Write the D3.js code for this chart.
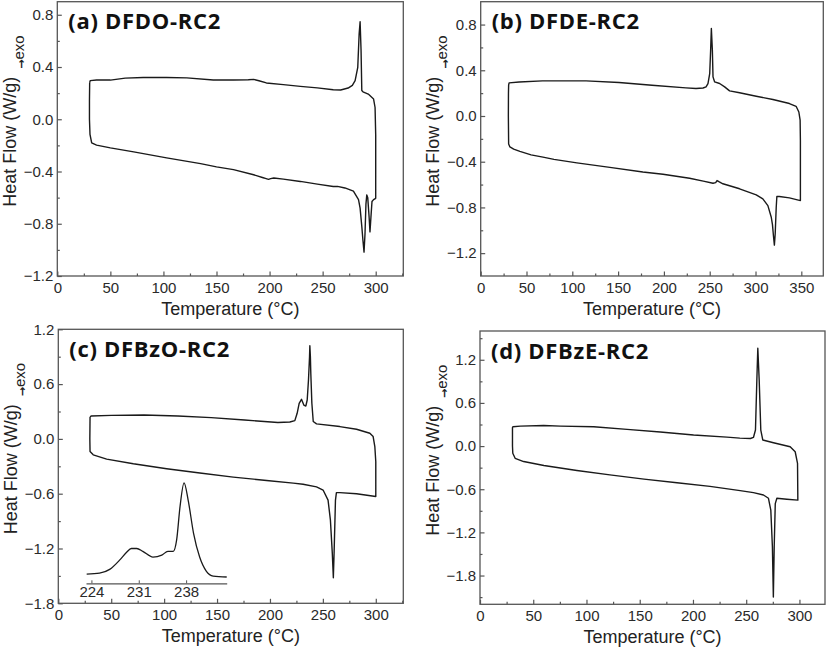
<!DOCTYPE html>
<html><head><meta charset="utf-8">
<script src="https://cdn.jsdelivr.net/npm/d3@7"></script>
<style>body{margin:0;background:#fff} svg{display:block}</style>
</head><body>
<svg id="chart" width="827" height="649"></svg>
<script>
// ---------------- data (temperature in °C, heat flow in W/g), loop order ----------------
const aTemp = [30.5,31,37,50,64,81,103,122,147,166,180,185,190,197,213,229,245,260,267,274,278,280.6,283.1,284.4,285.3,286.2,286.9,288,293,298,299.4,300,300,
  298,296.5,295.5,294.6,293.8,292.5,291.6,290.8,289.9,289,288,286.9,285.3,283.8,279,271,264,260,245,229,213,204,201,199,196,194,185,166,150,135,103,72,50,37,32.4,30.8,30.3,30.3,30.5];
const aHeat = [0.28,0.296,0.30,0.30,0.315,0.32,0.32,0.317,0.30,0.30,0.302,0.305,0.295,0.278,0.265,0.252,0.24,0.226,0.224,0.239,0.26,0.296,0.398,0.655,0.746,0.528,0.22,0.21,0.193,0.155,0.09,-0.119,-0.605,
  -0.615,-0.63,-0.75,-0.862,-0.75,-0.6,-0.579,-0.65,-0.88,-1.017,-0.93,-0.82,-0.68,-0.615,-0.55,-0.526,-0.514,-0.515,-0.497,-0.476,-0.458,-0.45,-0.455,-0.46,-0.453,-0.448,-0.425,-0.386,-0.365,-0.34,-0.296,-0.25,-0.219,-0.198,-0.18,-0.116,0.0,0.14,0.28];

const bTemp = [30.5,31,42,67.5,115,151,187,224,235,242.7,246,248.1,250,251,251.8,252.9,253.6,255.4,260.8,266.3,271.7,282.6,300.8,319,337,344.3,347.3,348.7,349,349,
  337,326,323.3,322.6,321.5,320.6,319.6,318.5,317.2,313.5,308,300.8,282.6,264.4,260,258,256.5,253.6,243,228,199,177,141,105,80,68,55,42.8,36,31.9,30.5,30.2,30.3,30.5];
const bHeat = [0.27,0.29,0.298,0.307,0.307,0.293,0.269,0.246,0.24,0.245,0.255,0.284,0.37,0.576,0.766,0.576,0.342,0.298,0.284,0.255,0.22,0.203,0.173,0.144,0.109,0.085,0.035,-0.037,-0.213,-0.74,
  -0.716,-0.705,-0.705,-0.80,-1.03,-1.13,-1.05,-0.95,-0.886,-0.784,-0.725,-0.69,-0.637,-0.593,-0.575,-0.565,-0.583,-0.588,-0.57,-0.545,-0.51,-0.49,-0.45,-0.41,-0.38,-0.36,-0.34,-0.31,-0.29,-0.271,-0.245,0.0,0.2,0.27];

const cTemp = [30,31,50,81,113,144.5,176,207.5,218.8,223.5,225.7,227.6,229.8,232,233.9,235.2,236.4,237.4,237.7,238.2,238.6,239.6,240.9,244,266,281.8,294.4,297.5,299.1,300,300,
  281.8,266,262.8,261.9,260.6,259.9,258.9,257.1,254.9,250.2,244,231.3,222,196.8,165.3,133.8,102.4,70.9,45.7,33,30,29.8,30];
const cHeat = [0.24,0.251,0.258,0.262,0.251,0.233,0.207,0.18,0.185,0.2,0.28,0.389,0.433,0.371,0.36,0.426,0.645,0.9,1.02,0.9,0.718,0.39,0.19,0.164,0.135,0.106,0.062,0.026,-0.084,-0.25,-0.63,
  -0.6,-0.588,-0.588,-0.67,-1.25,-1.52,-1.25,-0.886,-0.67,-0.56,-0.525,-0.496,-0.484,-0.455,-0.418,-0.374,-0.327,-0.272,-0.221,-0.174,-0.138,0.0,0.24];

const dTemp = [30.5,31,37.9,59.8,75.5,106.8,138.1,169.3,200.6,231.9,244,254,256.8,258.7,260,260.9,262.2,263.7,265.6,275.6,291.3,296,298.2,298.5,
  288.2,278.8,277.3,276.3,275.5,274.6,273.1,270.9,266.2,256.8,244.3,216,185,154,122,91,60,41,33,30.8,30.5,30.5];
const dHeat = [0.26,0.269,0.278,0.286,0.278,0.268,0.232,0.195,0.153,0.125,0.11,0.105,0.12,0.223,0.919,1.36,0.919,0.223,0.084,0.046,-0.009,-0.079,-0.241,-0.752,
  -0.74,-0.726,-0.80,-1.4,-2.1,-1.4,-0.89,-0.726,-0.68,-0.648,-0.62,-0.56,-0.51,-0.46,-0.40,-0.34,-0.27,-0.215,-0.17,-0.10,0.0,0.26];

// inset of panel (c): crystallization region, arbitrary intensity
const insetTemp   = [223.3,225.2,226.7,228.2,229.2,229.9,230.7,231.6,233.1,234.4,235.3,236.1,236.6,237.1,237.7,238.3,239.1,240,241,242,244];
const insetSignal = [0.03,0.04,0.08,0.18,0.26,0.30,0.30,0.27,0.21,0.23,0.27,0.27,0.39,0.74,0.99,0.81,0.46,0.21,0.06,0.01,0];
const insetTicks  = [224,231,238];

const titles = ["(a) DFDO-RC2","(b) DFDE-RC2","(c) DFBzO-RC2","(d) DFBzE-RC2"];
const xTicks300 = [0,50,100,150,200,250,300];
const xTicks350 = [0,50,100,150,200,250,300,350];
const yTicksAB = [-1.2,-0.8,-0.4,0.0,0.4,0.8];
const yTicksCD = [-1.8,-1.2,-0.6,0.0,0.6,1.2];
const xLabel = "Temperature (°C)";
const yLabel = "Heat Flow (W/g)";
const exoLabel = "exo";

// ---------------- layout ----------------
const panels = [
  {title:titles[0], T:aTemp, H:aHeat, xd:[0,326], yd:[-1.2,0.9], xt:xTicks300, yt:yTicksAB, ym:0.2, box:{l:57.3,t:1.7,r:403.3,b:276}},
  {title:titles[1], T:bTemp, H:bHeat, xd:[0,374], yd:[-1.4,1.0], xt:xTicks350, yt:yTicksAB, ym:0.2, box:{l:480.7,t:1.7,r:823.3,b:276}},
  {title:titles[2], T:cTemp, H:cHeat, xd:[0,326], yd:[-1.8,1.2], xt:xTicks300, yt:yTicksCD, ym:0.3, box:{l:58.3,t:329.3,r:403.3,b:603.3}, inset:true},
  {title:titles[3], T:dTemp, H:dHeat, xd:[0,324], yd:[-2.2,1.6], xt:xTicks300, yt:yTicksCD, ym:0.3, box:{l:480,t:331,r:825,b:604.3}}
];

const svg = d3.select("#chart");
const frameColor = "#555", textColor = "#222", lineColor = "#1a1a1a";
const tickFont = "'Liberation Sans', Arial, sans-serif";

panels.forEach(p => {
  const b = p.box;
  const x = d3.scaleLinear().domain(p.xd).range([b.l, b.r]);
  const y = d3.scaleLinear().domain(p.yd).range([b.b, b.t]);
  const g = svg.append("g");

  // minor ticks
  const xMinor = d3.range(25, p.xd[1], 50);
  const yMinor = d3.range(p.yt[0] - p.ym, p.yd[1], 2*p.ym).map(v => +v.toFixed(2)).filter(v => v > p.yd[0] + 1e-6 && v < p.yd[1] - 1e-6);

  g.append("g").attr("transform", `translate(0,${b.b})`)
    .call(d3.axisBottom(x).tickValues(p.xt).tickSizeInner(-4.5).tickSizeOuter(0).tickPadding(6).tickFormat(d3.format("d")));
  g.append("g").attr("transform", `translate(0,${b.b})`)
    .call(d3.axisBottom(x).tickValues(xMinor).tickSizeInner(-2.5).tickSizeOuter(0).tickFormat(""));
  g.append("g").attr("transform", `translate(${b.l},0)`)
    .call(d3.axisLeft(y).tickValues(p.yt).tickSizeInner(-4.5).tickSizeOuter(0).tickPadding(4).tickFormat(d3.format(".1f")));
  g.append("g").attr("transform", `translate(${b.l},0)`)
    .call(d3.axisLeft(y).tickValues(yMinor).tickSizeInner(-2.5).tickSizeOuter(0).tickFormat(""));

  g.selectAll(".domain").remove();
  g.selectAll(".tick line").attr("stroke", frameColor).attr("stroke-width", 1.2);
  g.selectAll(".tick text").attr("fill", "#2a2a2a").style("font-family", tickFont).style("font-size", "15px");

  // frame
  g.append("rect").attr("x", b.l).attr("y", b.t).attr("width", b.r - b.l).attr("height", b.b - b.t)
    .attr("fill", "none").attr("stroke", frameColor).attr("stroke-width", 1.3);

  // curve
  const pts = p.T.map((t, i) => [t, p.H[i]]);
  g.append("path").datum(pts)
    .attr("d", d3.line().x(d => x(d[0])).y(d => y(d[1])))
    .attr("fill", "none").attr("stroke", lineColor).attr("stroke-width", 1.4).attr("stroke-linejoin", "round");

  // title
  g.append("text").attr("x", b.l + 11).attr("y", b.t + 27.5)
    .style("font-family", "'Open Sans', sans-serif").style("font-weight", "bold").style("font-size", "22px")
    .style("letter-spacing", "0.7px").attr("fill", "#111").text(p.title);

  // axis titles
  g.append("text").attr("x", (b.l + b.r) / 2).attr("y", b.b + 38.5).attr("text-anchor", "middle")
    .style("font-family", tickFont).style("font-size", "18px").attr("fill", textColor).text(xLabel);
  g.append("text").attr("transform", `translate(${b.l - 41.5},${(b.t + b.b) / 2 + 3}) rotate(-90)`).attr("text-anchor", "middle")
    .style("font-family", tickFont).style("font-size", "18px").attr("fill", textColor).text(yLabel);

  // exo marker
  const ex = g.append("text").attr("transform", `translate(${b.l - 32},${b.t + 67}) rotate(-90)`)
    .style("font-family", "'DejaVu Sans', sans-serif").style("font-size", "14px").attr("fill", textColor);
  ex.append("tspan").style("font-size", "11px").style("font-weight", "bold").text("→");
  ex.append("tspan").attr("dy", -1.5).style("font-family", tickFont).style("font-size", "15px").text(exoLabel);

  // inset
  if (p.inset) {
    const ix = d3.scaleLinear().domain([223.2, 244]).range([b.l + 27.7, b.l + 168.4]);
    const iy = d3.scaleLinear().domain([0, 1]).range([b.b - 26.3, b.b - 121.3]);
    const ib = b.b - 20;
    const ia = g.append("g").attr("transform", `translate(0,${ib})`)
      .call(d3.axisBottom(ix).tickValues(insetTicks).tickSizeInner(-3).tickSizeOuter(0).tickPadding(3).tickFormat(d3.format("d")));
    ia.select(".domain").attr("stroke", frameColor).attr("stroke-width", 1.3);
    ia.selectAll(".tick line").attr("stroke", frameColor);
    ia.selectAll(".tick text").attr("fill", "#2a2a2a").style("font-family", tickFont).style("font-size", "15px");
    const ipts = insetTemp.map((t, i) => [t, insetSignal[i]]);
    g.append("path").datum(ipts)
      .attr("d", d3.line().curve(d3.curveMonotoneX).x(d => ix(d[0])).y(d => iy(d[1])))
      .attr("fill", "none").attr("stroke", lineColor).attr("stroke-width", 1.3);
  }
});
</script>
</body></html>
